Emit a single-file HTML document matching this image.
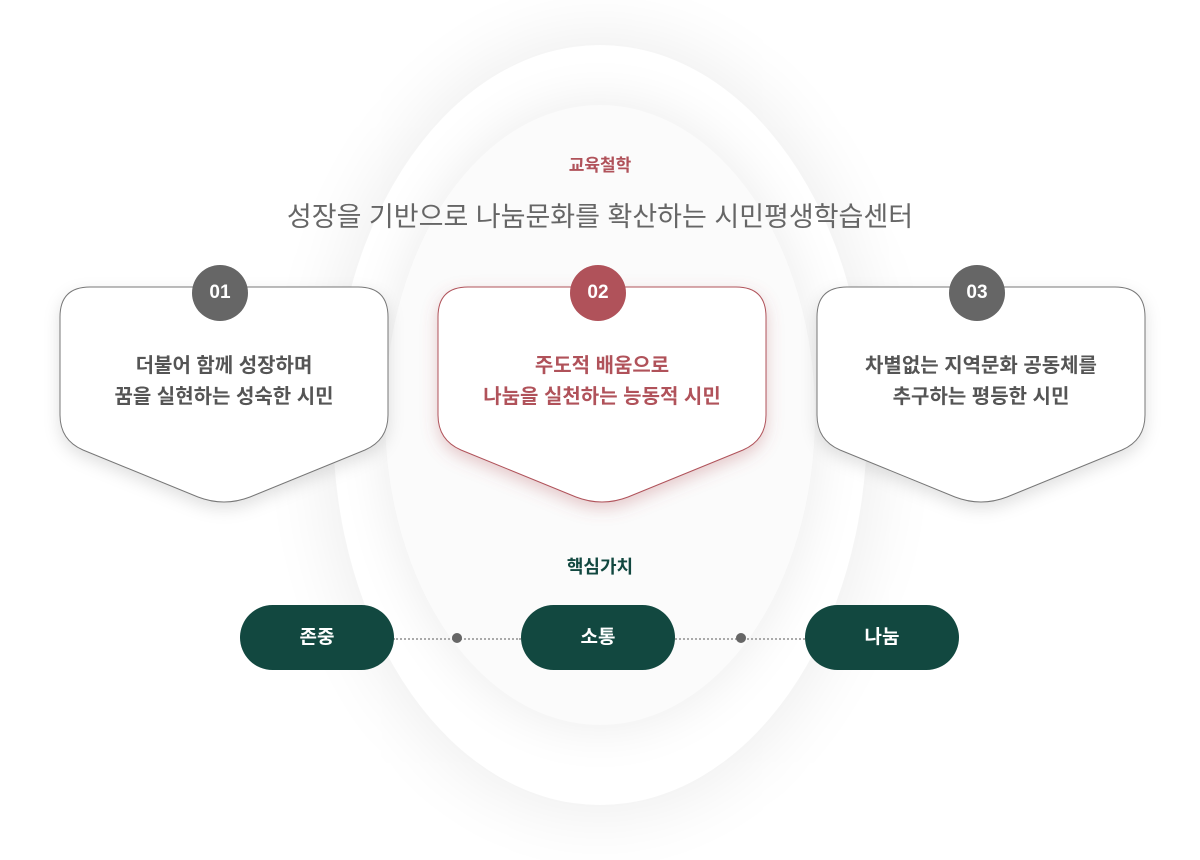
<!DOCTYPE html>
<html><head><meta charset="utf-8"><style>
body{margin:0;width:1200px;height:860px;background:#fff;overflow:hidden;font-family:"Liberation Sans","Noto Sans CJK KR",sans-serif;position:relative}
.abs{position:absolute}
.t{position:absolute;text-align:center;white-space:nowrap}
.badge{position:absolute;width:56px;height:56px;border-radius:50%;background:#666;color:#fff;font-weight:bold;font-size:19px;line-height:56px;text-align:center}
.pill{position:absolute;top:605px;height:65px;width:154px;border-radius:33px;background:#124840;color:#fff;font-weight:bold;font-size:19px;line-height:65px;text-align:center}
.dot{position:absolute;top:633px;width:10px;height:10px;border-radius:50%;background:#666}
.line{position:absolute;top:638px;border-top:2px dotted #aaa;height:0}
</style></head><body>
<div class="abs" style="left:333px;top:45px;width:534px;height:760px;border-radius:50%;background:#fff;box-shadow:0 0 70px 10px rgba(0,0,0,0.07)"></div>
<div class="abs" style="left:385px;top:105px;width:430px;height:620px;border-radius:50%;background:#fbfbfb;box-shadow:0 0 50px 5px rgba(0,0,0,0.07)"></div>
<div class="t" style="left:0;width:1200px;top:151px;font-size:17px;font-weight:bold;color:#b0525a">교육철학</div>
<div class="t" style="left:0;width:1200px;top:195px;font-size:27px;color:#666">성장을 기반으로 나눔문화를 확산하는 시민평생학습센터</div>
<svg class="abs" style="left:0;top:0" width="1200" height="860">
<defs><filter id="s" x="-20%" y="-20%" width="140%" height="150%"><feDropShadow dx="0" dy="6" stdDeviation="8" flood-color="#000" flood-opacity="0.12"/></filter>
<filter id="r" x="-20%" y="-20%" width="140%" height="150%"><feDropShadow dx="0" dy="6" stdDeviation="8" flood-color="#b0525a" flood-opacity="0.3"/></filter></defs>
<path d="M90 287 H358 Q388 287 388 317 V415 Q388 440 365 450 L250 497 Q224 507 198 497 L83 450 Q60 440 60 415 V317 Q60 287 90 287 Z" fill="#fff" stroke="#777" stroke-width="1" filter="url(#s)"/>
<path transform="translate(378 0)" d="M90 287 H358 Q388 287 388 317 V415 Q388 440 365 450 L250 497 Q224 507 198 497 L83 450 Q60 440 60 415 V317 Q60 287 90 287 Z" fill="#fff" stroke="#b0525a" stroke-width="1" filter="url(#r)"/>
<path transform="translate(757 0)" d="M90 287 H358 Q388 287 388 317 V415 Q388 440 365 450 L250 497 Q224 507 198 497 L83 450 Q60 440 60 415 V317 Q60 287 90 287 Z" fill="#fff" stroke="#777" stroke-width="1" filter="url(#s)"/>
</svg>
<div class="badge" style="left:192px;top:265px">01</div>
<div class="badge" style="left:570px;top:265px;background:#b0525a">02</div>
<div class="badge" style="left:949px;top:265px">03</div>
<div class="t" style="left:60px;width:328px;top:351px;font-size:20px;line-height:31px;color:#555;font-weight:bold">더불어 함께 성장하며<br>꿈을 실현하는 성숙한 시민</div>
<div class="t" style="left:438px;width:328px;top:351px;font-size:20px;line-height:31px;color:#b0525a;font-weight:bold">주도적 배움으로<br>나눔을 실천하는 능동적 시민</div>
<div class="t" style="left:817px;width:328px;top:351px;font-size:20px;line-height:31px;color:#555;font-weight:bold">차별없는 지역문화 공동체를<br>추구하는 평등한 시민</div>
<div class="t" style="left:0;width:1200px;top:553px;font-size:18px;font-weight:bold;color:#124840">핵심가치</div>
<div class="line" style="left:393px;width:128px"></div>
<div class="line" style="left:675px;width:130px"></div>
<div class="dot" style="left:452px"></div>
<div class="dot" style="left:736px"></div>
<div class="pill" style="left:240px">존중</div>
<div class="pill" style="left:521px">소통</div>
<div class="pill" style="left:805px">나눔</div>
</body></html>
